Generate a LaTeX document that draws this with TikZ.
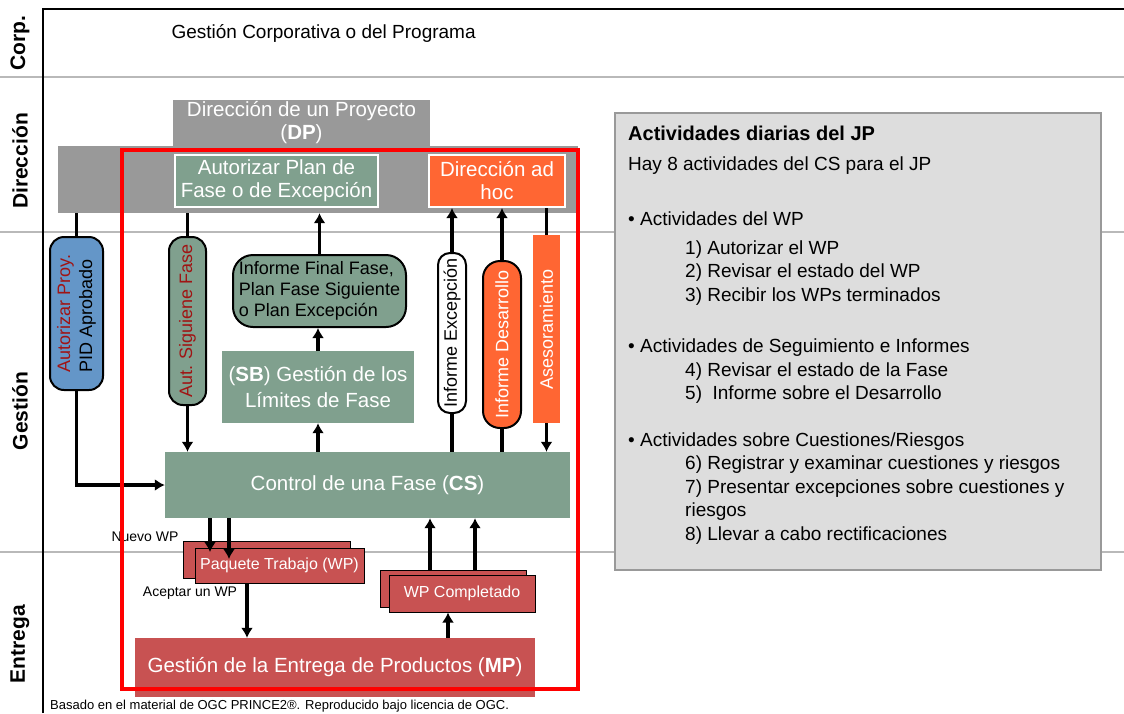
\documentclass[tikz,border=0pt]{standalone}
\usepackage{fontspec}
\setmainfont{Liberation Sans}
\usepackage{tikz}
\usetikzlibrary{arrows.meta}

\definecolor{pgreen}{RGB}{128,160,142}
\definecolor{porange}{RGB}{255,102,51}
\definecolor{pred}{RGB}{200,82,82}
\definecolor{pblue}{RGB}{100,150,200}
\definecolor{pgray}{RGB}{153,153,153}
\definecolor{lgray}{RGB}{221,221,221}
\definecolor{lanegray}{RGB}{185,185,185}
\definecolor{dred}{RGB}{160,20,20}

\begin{document}
\begin{tikzpicture}[x=1pt,y=-1pt]
\tikzset{box/.style = {shape=rectangle,inner sep=0pt,align=center,text=white,font=\fontsize{20.5}{23}\selectfont}}
\tikzset{wpbox/.style = {box,fill=pred,draw=black,line width=1pt,font=\fontsize{16}{19}\selectfont}}
\tikzset{pill/.style = {shape=rectangle,draw=black,line width=2pt,rounded corners=14pt,inner sep=0pt,align=center,rotate=90,font=\fontsize{18}{22}\selectfont}}
\tikzset{lane/.style = {rotate=90,font=\fontsize{21}{24}\selectfont\bfseries}}
\tikzset{edge/.style = {->,> = {Latex[length=10pt,width=12pt]},line width=3.5pt}}
\tikzset{link/.style = {line width=3.5pt}}
\useasboundingbox (0,0) rectangle (1124,713);
% lanes
\draw[lanegray,line width=1.5pt] (0,77) -- (1124,77);
\draw[lanegray,line width=1.5pt] (0,232) -- (1124,232);
\draw[lanegray,line width=1.5pt] (0,552) -- (1124,552);
\draw[line width=2pt] (43,713) -- (43,9) -- (1124,9);
\node[lane] (corp) at (20,43) {Corp.};
\node[lane] (dir) at (20,161) {Dirección};
\node[lane] (gest) at (20,411) {Gestión};
\node[lane] (entr) at (20,644) {Entrega};
\node[anchor=west,font=\fontsize{19}{22}\selectfont] (corptitle) at (168,33) {Gestión Corporativa o del Programa};
% direccion
\node[box,fill=pgray,minimum width=520pt,minimum height=67pt] (dp) at (318,179.5) {};
\node[box,fill=pgray,minimum width=257pt,minimum height=46pt] (dptop) at (301.5,123) {Dirección de un Proyecto\\(\textbf{DP})};
\node[box,fill=pgreen,draw=white,line width=2pt,minimum width=203pt,minimum height=52pt] (plan) at (276.5,181) {Autorizar Plan de\\Fase o de Excepción};
\node[box,fill=porange,draw=white,line width=2pt,minimum width=136pt,minimum height=52pt] (adhoc) at (497,181) {Dirección ad\\hoc};
% gestion
\node[pill,fill=pblue,align=left,minimum width=153pt,minimum height=53pt] (pid) at (76.5,313.5) {\textcolor{dred}{Autorizar Proy.}\\PID Aprobado};
\node[pill,fill=pgreen,text=dred,minimum width=168pt,minimum height=37pt] (aut) at (187.5,321) {Aut. Siguiene Fase};
\node[box,fill=pgreen,draw=black,line width=2pt,rounded corners=20pt,text=black,align=left,minimum width=173pt,minimum height=72pt,font=\fontsize{18}{21}\selectfont] (inf) at (319.5,291) {Informe Final Fase,\\Plan Fase Siguiente\\o Plan Excepción};
\node[box,fill=pgreen,minimum width=192pt,minimum height=72pt,font=\fontsize{20.5}{26}\selectfont] (sb) at (318,387) {(\textbf{SB}) Gestión de los\\Límites de Fase};
\node[pill,fill=white,rounded corners=12pt,minimum width=160pt,minimum height=28pt] (iex) at (452,333) {Informe Excepción};
\node[pill,fill=porange,text=white,rounded corners=17pt,minimum width=167pt,minimum height=38pt] (ides) at (502,344.5) {Informe Desarrollo};
\node[box,fill=porange,rotate=90,minimum width=188pt,minimum height=27pt,font=\fontsize{18}{21}\selectfont] (ase) at (546.5,329) {Asesoramiento};
\node[box,fill=pgreen,minimum width=405pt,minimum height=66pt] (cs) at (367.5,485) {Control de una Fase (\textbf{CS})};
% entrega
\node[wpbox,minimum width=167pt,minimum height=37pt] (wpb) at (266.5,559.5) {};
\node[wpbox,minimum width=169pt,minimum height=35pt] (wp) at (279.5,565.5) {Paquete Trabajo (WP)};
\node[wpbox,minimum width=146pt,minimum height=37pt] (wpcb) at (453,588.5) {};
\node[wpbox,minimum width=146pt,minimum height=37pt] (wpc) at (462,593.5) {WP Completado};
\node[box,fill=pred,minimum width=400pt,minimum height=59pt] (mp) at (335,667.5) {Gestión de la Entrega de Productos (\textbf{MP})};
\node[font=\fontsize{14}{16}\selectfont] (nuevo) at (145,537) {Nuevo WP};
\node[font=\fontsize{14}{16}\selectfont] (acept) at (190,593) {Aceptar un WP};
% edges direccion
\draw[link] (pid.east |- dp.south) -- (pid.east);
\draw[link] (aut.east |- dp.south) -- (aut.east);
\draw[edge] (inf.north) -- (inf.north |- dp.south);
\draw[edge] (iex.east) -- (iex.east |- adhoc.south);
\draw[edge] (ides.east) -- (ides.east |- adhoc.south);
\draw[link] (ase.east |- adhoc.south) -- (ase.east);
% edges gestion
\draw[edge] (pid.west) |- (cs.west);
\draw[edge] (aut.west) -- (aut.west |- cs.north);
\draw[edge] (sb.north) -- (inf.south -| sb.north);
\draw[edge] (cs.north -| sb.south) -- (sb.south);
\draw[link] (cs.north -| iex.west) -- (iex.west);
\draw[link] (cs.north -| ides.west) -- (ides.west);
\draw[edge] (ase.west) -- (ase.west |- cs.north);
% edges entrega
\coordinate (nw1) at (210,552);
\coordinate (nw2) at (229,559);
\draw[edge] (cs.south -| nw1) -- (nw1);
\draw[edge] (cs.south -| nw2) -- (nw2);
\coordinate (acc) at ([xshift=-32.5pt]wp.south);
\draw[edge] (acc) -- (acc |- mp.north);
\coordinate (wc1) at ([xshift=-23pt]wpcb.north);
\coordinate (wc2) at ([xshift=22pt]wpcb.north);
\draw[edge] (wc1) -- (wc1 |- cs.south);
\draw[edge] (wc2) -- (wc2 |- cs.south);
\coordinate (mc) at ([xshift=-14pt]wpc.south);
\draw[edge] (mc |- mp.north) -- (mc);
% CS frame
\draw[red,line width=4pt] (122,150) rectangle (578,689);
% JP box
\node[box,fill=lgray,draw=pgray,line width=2pt,minimum width=486pt,minimum height=457pt] (jp) at (858,341.5) {};
\node[anchor=north west,inner sep=0pt,align=left,font=\fontsize{19}{23.4}\selectfont] (jptxt) at (628,126) {{\fontsize{20}{23.4}\selectfont\bfseries Actividades diarias del JP}\\[6.4pt]
Hay 8 actividades del CS para el JP\\[31.8pt]
• Actividades del WP\\[5.1pt]
\hspace*{57pt}1) Autorizar el WP\\
\hspace*{57pt}2) Revisar el estado del WP\\
\hspace*{57pt}3) Recibir los WPs terminados\\[28.4pt]
• Actividades de Seguimiento e Informes\\
\hspace*{57pt}4) Revisar el estado de la Fase\\
\hspace*{57pt}5)\ \ Informe sobre el Desarrollo\\[23.4pt]
• Actividades sobre Cuestiones/Riesgos\\
\hspace*{57pt}6) Registrar y examinar cuestiones y riesgos\\
\hspace*{57pt}7) Presentar excepciones sobre cuestiones y\\
\hspace*{57pt}riesgos\\
\hspace*{57pt}8) Llevar a cabo rectificaciones};
% source
\node[anchor=west,inner sep=0pt,font=\fontsize{13}{15}\selectfont] (src) at (50,706) {Basado en el material de OGC PRINCE2®. Reproducido bajo licencia de OGC.};
\end{tikzpicture}
\end{document}
